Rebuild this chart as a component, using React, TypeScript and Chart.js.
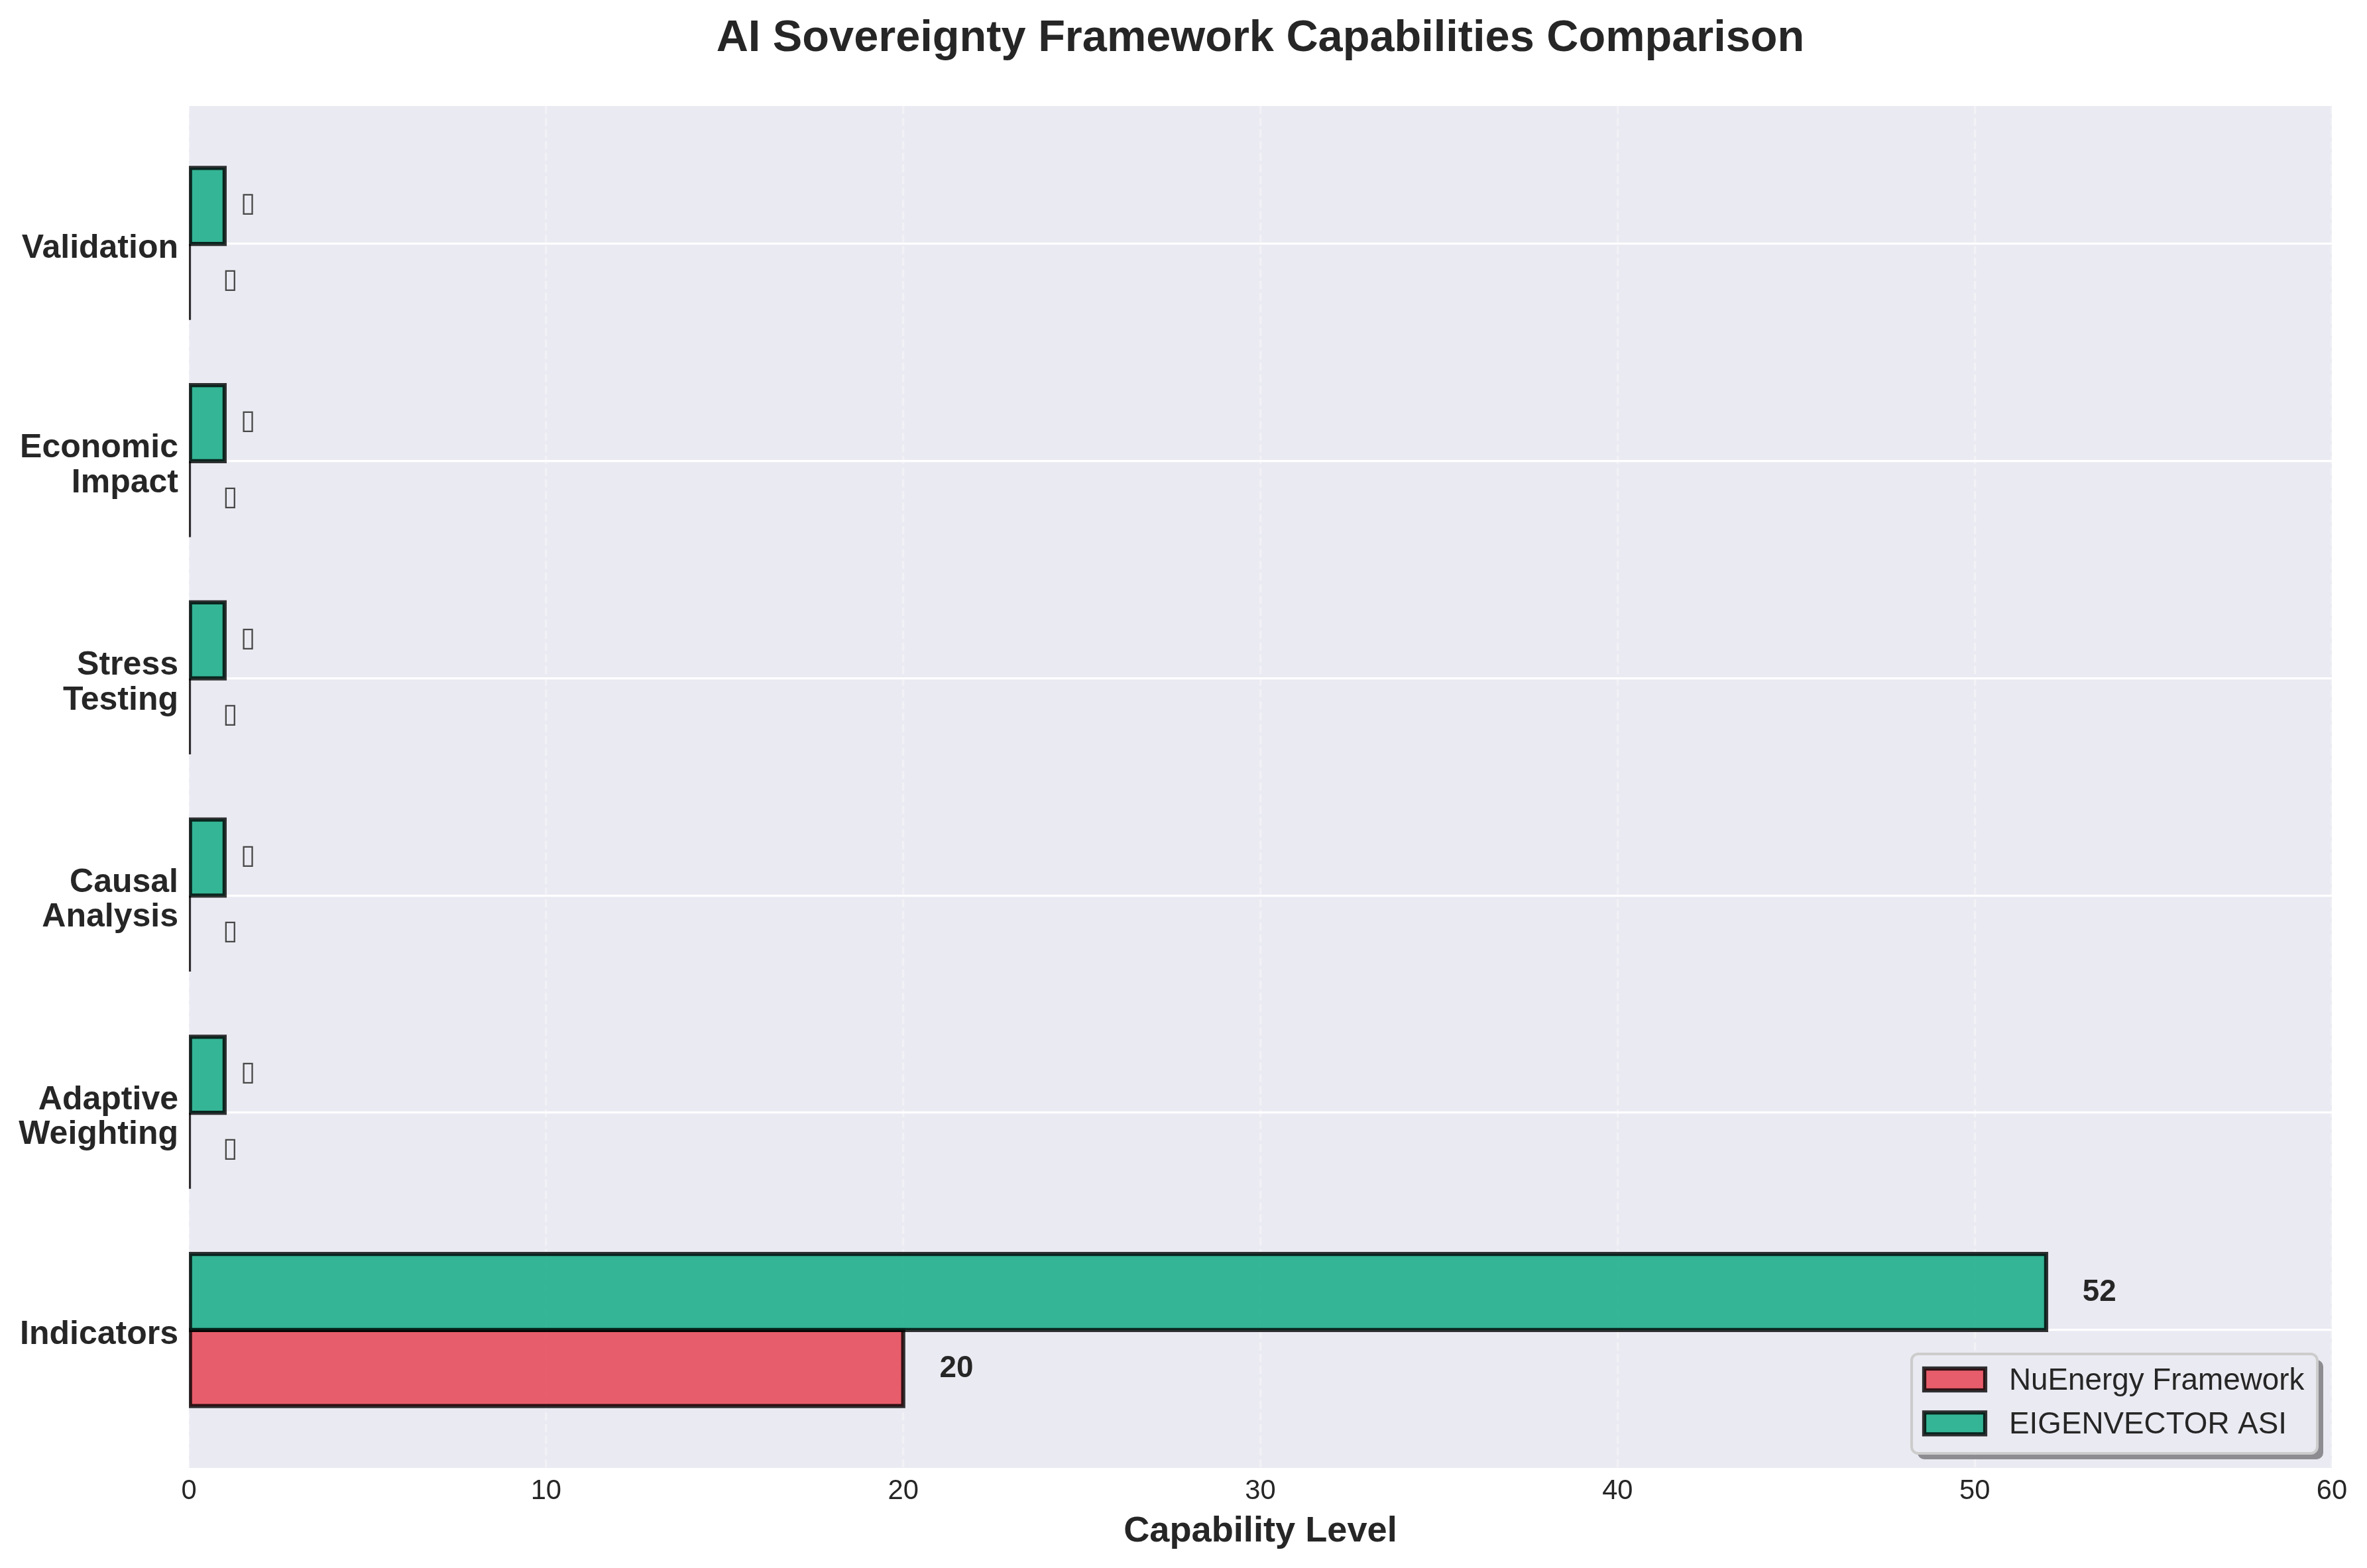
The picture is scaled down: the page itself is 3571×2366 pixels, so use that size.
import React, { useEffect, useRef } from "react";
import { Chart, registerables } from "chart.js";

Chart.register(...registerables);

const titleText = "AI Sovereignty Framework Capabilities Comparison";
const xAxisTitle = "Capability Level";
const categories = [
  ["Indicators"],
  ["Adaptive", "Weighting"],
  ["Causal", "Analysis"],
  ["Stress", "Testing"],
  ["Economic", "Impact"],
  ["Validation"],
];
const nuEnergyValues = [20, 0, 0, 0, 0, 0];
const eigenvectorValues = [52, 1, 1, 1, 1, 1];
const nuEnergyLabels = ["20", "▯", "▯", "▯", "▯", "▯"];
const eigenvectorLabels = ["52", "▯", "▯", "▯", "▯", "▯"];
const nuEnergyOffsets = [1, 1, 1, 1, 1, 1];
const eigenvectorOffsets = [1, 0.5, 0.5, 0.5, 0.5, 0.5];

const W = 3571;
const H = 2366;
const INK = "#262626";
const FONT = '"Liberation Sans"';
const PANEL = "#EAEAF2";
const EDGE = "rgba(0,0,0,0.8)";

const panelPlugin = {
  id: "panel",
  beforeDraw(chart: any) {
    const { ctx, chartArea: a } = chart;
    ctx.save();
    ctx.fillStyle = PANEL;
    ctx.fillRect(a.left, a.top, a.right - a.left, a.bottom - a.top);
    ctx.restore();
  },
};

const edgePlugin = {
  id: "edges",
  afterDatasetDraw(chart: any, args: any) {
    const { ctx, chartArea: a } = chart;
    ctx.save();
    ctx.beginPath();
    ctx.rect(a.left, a.top, a.right - a.left, a.bottom - a.top);
    ctx.clip();
    ctx.strokeStyle = EDGE;
    ctx.lineWidth = 6.25;
    ctx.lineJoin = "miter";
    args.meta.data.forEach((bar: any) => {
      const p = bar.getProps(["x", "y", "base", "height"], true);
      ctx.beginPath();
      ctx.rect(p.base, p.y - p.height / 2, p.x - p.base, p.height);
      ctx.stroke();
    });
    ctx.restore();
  },
};

const labelPlugin = {
  id: "valueLabels",
  afterDatasetsDraw(chart: any) {
    const { ctx, scales } = chart;
    const sets = [
      { index: 0, labels: nuEnergyLabels, offsets: nuEnergyOffsets, values: nuEnergyValues },
      { index: 1, labels: eigenvectorLabels, offsets: eigenvectorOffsets, values: eigenvectorValues },
    ];
    ctx.save();
    ctx.textBaseline = "middle";
    ctx.textAlign = "left";
    sets.forEach((s) => {
      const meta = chart.getDatasetMeta(s.index);
      meta.data.forEach((bar: any, i: number) => {
        const txt = s.labels[i];
        const glyph = txt === "▯";
        ctx.font = glyph ? '41px "DejaVu Sans"' : `bold 45.8px ${FONT}`;
        ctx.fillStyle = glyph ? "#484848" : INK;
        const px = scales.x.getPixelForValue(s.values[i] + s.offsets[i]);
        ctx.fillText(txt, px + (glyph ? -3 : 1), bar.y + (glyph ? -2 : 1));
      });
    });
    ctx.restore();
  },
};

const legendPlugin = {
  id: "boxLegend",
  afterDraw(chart: any) {
    const { ctx } = chart;
    const box = { x: 2884, y: 2043, w: 612, h: 150, r: 10 };
    const rr = (x: number, y: number, w: number, h: number, r: number) => {
      ctx.beginPath();
      ctx.roundRect(x, y, w, h, r);
    };
    ctx.save();
    rr(box.x + 9, box.y + 9, box.w, box.h, box.r);
    ctx.fillStyle = "rgba(0,0,0,0.4)";
    ctx.fill();
    rr(box.x, box.y, box.w, box.h, box.r);
    ctx.fillStyle = PANEL;
    ctx.fill();
    ctx.strokeStyle = "#CCCCCC";
    ctx.lineWidth = 4;
    ctx.stroke();
    ctx.font = `45.8px ${FONT}`;
    ctx.textBaseline = "alphabetic";
    ctx.textAlign = "left";
    chart.data.datasets.forEach((d: any, i: number) => {
      const y = 2065 + i * 66.3;
      ctx.fillStyle = d.backgroundColor;
      ctx.fillRect(2903, y, 92, 33);
      ctx.strokeStyle = EDGE;
      ctx.lineWidth = 6.25;
      ctx.strokeRect(2903, y, 92, 33);
      ctx.fillStyle = INK;
      ctx.fillText(d.label, 3031, y + 32);
    });
    ctx.restore();
  },
};

export default function App() {
  const ref = useRef<HTMLCanvasElement>(null);
  useEffect(() => {
    document.body.style.margin = "0";
    document.body.style.background = "#ffffff";
    const chart = new Chart(ref.current as HTMLCanvasElement, {
      type: "bar",
      data: {
        datasets: [
          {
            label: "NuEnergy Framework",
            data: nuEnergyValues.map((v, i) => ({ x: v, y: i - 0.175 })),
            backgroundColor: "rgba(232,68,84,0.85)",
            borderWidth: 0,
            order: 1,
          },
          {
            label: "EIGENVECTOR ASI",
            data: eigenvectorValues.map((v, i) => ({ x: v, y: i + 0.175 })),
            backgroundColor: "rgba(20,172,133,0.85)",
            borderWidth: 0,
            order: 0,
          },
        ],
      } as any,
      options: {
        indexAxis: "y",
        responsive: false,
        animation: false,
        devicePixelRatio: 1,
        layout: { padding: { left: 0, right: 53, top: 0, bottom: 0 } },
        datasets: { bar: { grouped: false, barPercentage: 1, categoryPercentage: 1 } },
        plugins: {
          legend: { display: false },
          tooltip: { enabled: false },
          title: {
            display: true,
            fullSize: false,
            text: titleText,
            color: INK,
            font: { family: FONT, size: 66.7, weight: "bold" },
            padding: { top: 19, bottom: 61 },
          },
        },
        scales: {
          x: {
            type: "linear",
            min: 0,
            max: 60,
            afterFit: (s: any) => {
              s.height = 151;
            },
            ticks: {
              stepSize: 10,
              color: INK,
              font: { family: FONT, size: 41.7 },
              padding: 10,
              maxRotation: 0,
            },
            grid: {
              color: "rgba(255,255,255,0.35)",
              lineWidth: 3.33,
              drawTicks: false,
              tickLength: 0,
            },
            border: { display: false, dash: [12.3, 5.3] },
            title: {
              display: true,
              text: xAxisTitle,
              color: INK,
              font: { family: FONT, size: 54.2, weight: "bold" },
              padding: { top: 0, bottom: 22 },
            },
          },
          y: {
            type: "linear",
            offset: false,
            min: -0.635,
            max: 5.635,
            afterBuildTicks: (s: any) => {
              s.ticks = categories.map((_, i) => ({ value: i }));
            },
            afterFit: (s: any) => {
              s.width = 285;
            },
            ticks: {
              callback: (v: any) => categories[v as number],
              color: INK,
              font: { family: FONT, size: 50, weight: "bold", lineHeight: 1.05 },
              padding: 16,
              labelOffset: 7,
              autoSkip: false,
            },
            grid: { offset: false, color: "#ffffff", lineWidth: 3.33, drawTicks: false, tickLength: 0 },
            border: { display: false },
          },
        },
      } as any,
      plugins: [panelPlugin, edgePlugin, labelPlugin, legendPlugin],
    });
    return () => chart.destroy();
  }, []);
  return (
    <div style={{ width: W, height: H, background: "#fff" }}>
      <canvas ref={ref} width={W} height={H} style={{ display: "block", width: W, height: H }} />
    </div>
  );
}
